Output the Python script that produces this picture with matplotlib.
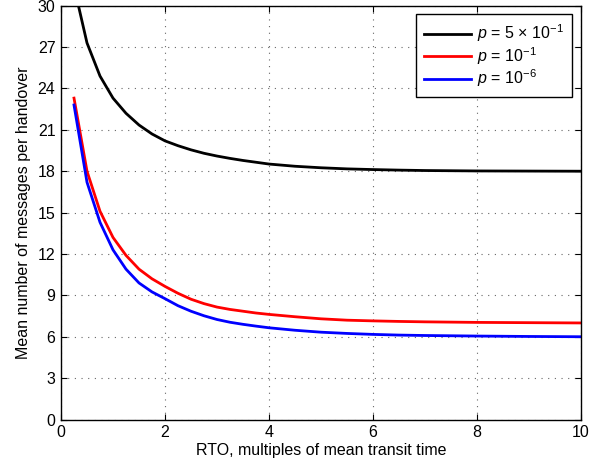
import matplotlib
matplotlib.use("Agg")
import matplotlib.pyplot as plt

plt.rcParams['font.family'] = ['Liberation Sans', 'DejaVu Sans']
plt.rcParams['mathtext.fontset'] = 'custom'
plt.rcParams['mathtext.rm'] = 'Liberation Sans'
plt.rcParams['mathtext.it'] = 'Liberation Sans:italic'
plt.rcParams['mathtext.sf'] = 'Liberation Sans'

rto = [0.25, 0.5, 0.75, 1.0, 1.25, 1.5, 1.75, 2.0, 2.25, 2.5, 2.75, 3.0, 3.25, 3.5,
       3.75, 4.0, 4.5, 5.0, 5.5, 6.0, 6.5, 7.0, 8.0, 9.0, 10.0]
p_5e1 = [31.4, 27.3, 24.9, 23.3, 22.2, 21.35, 20.7, 20.2, 19.85, 19.55, 19.3, 19.1,
         18.93, 18.78, 18.65, 18.52, 18.36, 18.25, 18.17, 18.12, 18.08, 18.05, 18.02,
         18.01, 18.0]
p_1e1 = [23.3, 18.0, 15.1, 13.2, 11.9, 10.9, 10.2, 9.65, 9.15, 8.72, 8.4, 8.15, 7.98,
         7.85, 7.72, 7.62, 7.45, 7.3, 7.2, 7.15, 7.11, 7.08, 7.04, 7.02, 7.0]
p_1e6 = [22.8, 17.2, 14.3, 12.3, 10.9, 9.9, 9.25, 8.76, 8.25, 7.85, 7.52, 7.25, 7.05,
         6.9, 6.77, 6.65, 6.47, 6.33, 6.24, 6.17, 6.12, 6.09, 6.05, 6.02, 6.0]

labels = [r'$p$ = 5 $\times$ 10$^{-1}$', r'$p$ = 10$^{-1}$', r'$p$ = 10$^{-6}$']
colors = ['black', 'red', 'blue']
xticks = [0, 2, 4, 6, 8, 10]
yticks = [0, 3, 6, 9, 12, 15, 18, 21, 24, 27, 30]

fig = plt.figure(figsize=(6.07, 4.66), dpi=100)
ax = fig.add_axes([61/607, 1-419.5/466, 520/607, 413.8/466])

for ys, c, lab in zip([p_5e1, p_1e1, p_1e6], colors, labels):
    ax.plot(rto, ys, color=c, lw=2.0, label=lab, solid_joinstyle='round')

ax.set_xlim(0, 10)
ax.set_ylim(0, 30)
ax.set_xticks(xticks)
ax.set_yticks(yticks)
ax.tick_params(direction='in', top=True, right=True, labelsize=11.5, length=4, width=0.8, pad=4)
ax.grid(True, linestyle=(0, (1, 5)), color='#666666', linewidth=0.8)
for s in ax.spines.values():
    s.set_linewidth(1.0)
ax.set_xlabel('RTO, multiples of mean transit time', fontsize=11.5, labelpad=2)
ax.set_ylabel('Mean number of messages per handover', fontsize=11.5, labelpad=5)

leg = ax.legend(loc='upper right', fontsize=11.5, handlelength=2.95, fancybox=False,
                framealpha=1, edgecolor='black', borderaxespad=0.55, labelspacing=0.05,
                handletextpad=0.4, borderpad=0.5)
leg.get_frame().set_linewidth(1.0)

fig.savefig('out.png', dpi=100)
